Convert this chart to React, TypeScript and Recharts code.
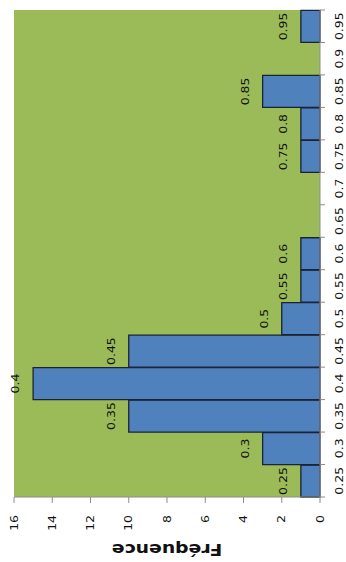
import React from 'react';
import { BarChart, Bar, XAxis, YAxis, CartesianGrid, LabelList } from 'recharts';

const categories = ['0.25', '0.3', '0.35', '0.4', '0.45', '0.5', '0.55', '0.6', '0.65', '0.7', '0.75', '0.8', '0.85', '0.9', '0.95'];
const frequencies = [1, 3, 10, 15, 10, 2, 1, 1, 0, 0, 1, 1, 3, 0, 1];
const valueTicks = [0, 2, 4, 6, 8, 10, 12, 14, 16];
const yAxisTitle = 'Fréquence';

const tableData = categories.map((cat, i) => ({
  cat,
  freq: frequencies[i],
  lab: frequencies[i] > 0 ? cat : '',
}));

const FONT = '"DejaVu Sans", Verdana, sans-serif';
const TEXT = '#111111';
const AXIS = '#8c8c8c';
const SX = 1.25;

function ValueTick(props: any) {
  const { x, y, payload } = props;
  return (
    <text
      transform={`translate(${x},${y}) scale(${SX},1)`}
      textAnchor="end"
      dy="0.355em"
      fontSize={10}
      fontFamily={FONT}
      fill={TEXT}
    >
      {payload.value}
    </text>
  );
}

function CategoryTick(props: any) {
  const { x, y, payload, width, visibleTicksCount, index } = props;
  const half =
    typeof width === 'number' && visibleTicksCount
      ? width / visibleTicksCount / 2
      : payload && payload.offset
      ? payload.offset
      : 0;
  return (
    <g>
      <line x1={x - half} x2={x - half} y1={y} y2={y + 5} stroke={AXIS} />
      {index === visibleTicksCount - 1 && (
        <line x1={x + half} x2={x + half} y1={y} y2={y + 5} stroke={AXIS} />
      )}
      <text
        transform={`translate(${x},${y + 16}) scale(${SX},1)`}
        textAnchor="middle"
        dy="0.71em"
        fontSize={10}
        fontFamily={FONT}
        fill={TEXT}
      >
        {payload.value}
      </text>
    </g>
  );
}

function BarLabel(props: any) {
  const vb = props.viewBox || props;
  const value = props.value;
  if (!value) return null;
  const cx = vb.x + vb.width / 2;
  const top = Math.min(vb.y, vb.y + vb.height);
  return (
    <text
      transform={`translate(${cx},${top - 14}) scale(${SX},1)`}
      textAnchor="middle"
      fontSize={10}
      fontFamily={FONT}
      fill={TEXT}
    >
      {value}
    </text>
  );
}

function TitleLabel(props: any) {
  const vb = props.viewBox || { x: 0, y: 14, width: 65, height: 306 };
  const x = vb.x + 18;
  const y = vb.y + vb.height / 2;
  return (
    <text
      transform={`translate(${x},${y}) rotate(-90) scale(1.14,1)`}
      textAnchor="middle"
      fontSize={16.5}
      fontWeight="bold"
      fontFamily={FONT}
      fill={TEXT}
    >
      {yAxisTitle}
    </text>
  );
}

export default function App() {
  return (
    <div
      style={{
        position: 'absolute',
        left: 0,
        top: 0,
        width: 346,
        height: 562,
        overflow: 'hidden',
        background: '#ffffff',
      }}
    >
      <div
        style={{
          position: 'absolute',
          left: 0,
          top: 0,
          width: 562,
          height: 346,
          transformOrigin: '0 0',
          transform: 'translate(0px, 562px) rotate(-90deg)',
        }}
      >
        <BarChart
          width={562}
          height={346}
          data={tableData}
          margin={{ top: 14, right: 10, bottom: 0, left: 0 }}
          barCategoryGap={0}
        >
          <CartesianGrid horizontal={false} vertical={false} fill="#9BBB59" stroke="none" />
          <XAxis
            dataKey="cat"
            interval={0}
            height={26}
            tickSize={0}
            tickMargin={0}
            axisLine={{ stroke: AXIS }}
            tickLine={false}
            tick={<CategoryTick />}
          />
          <YAxis
            type="number"
            domain={[0, 16]}
            ticks={valueTicks}
            interval={0}
            width={65}
            tickSize={6}
            tickMargin={12}
            axisLine={{ stroke: AXIS }}
            tickLine={{ stroke: AXIS }}
            tick={<ValueTick />}
            label={TitleLabel}
          />
          <Bar
            dataKey="freq"
            fill="#4F81BD"
            stroke="#1a2233"
            strokeWidth={1.3}
            isAnimationActive={false}
          >
            <LabelList dataKey="lab" content={BarLabel} />
          </Bar>
        </BarChart>
      </div>
    </div>
  );
}
